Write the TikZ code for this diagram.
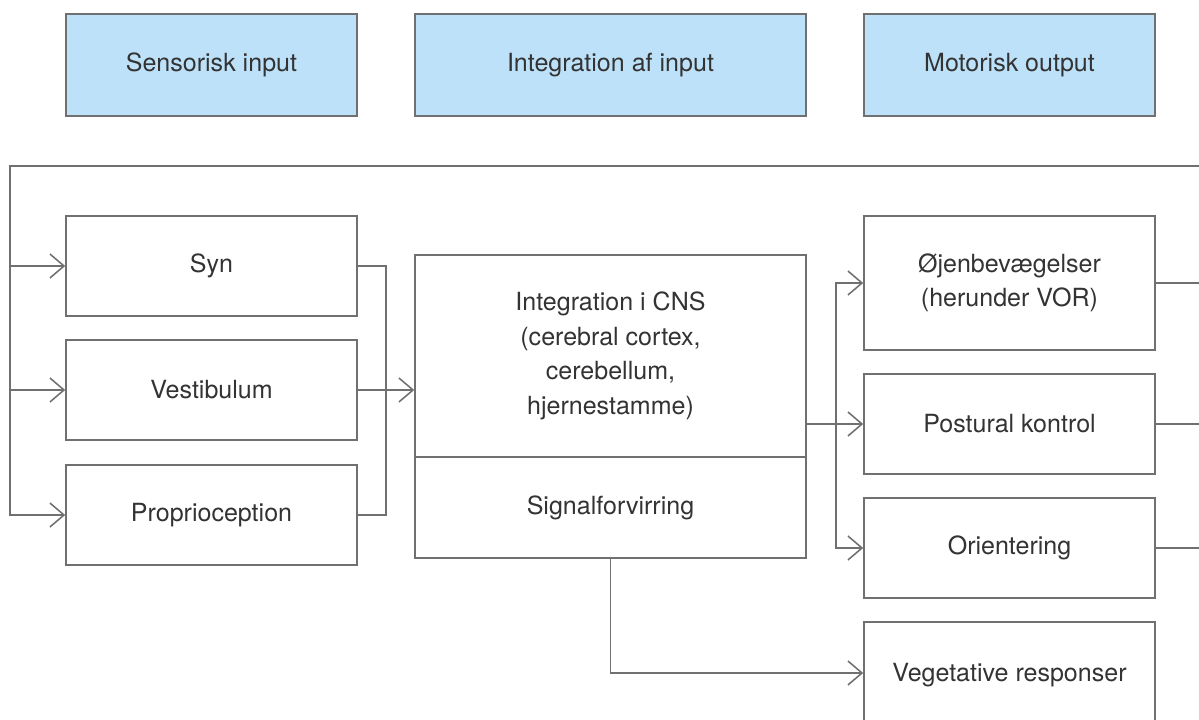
\documentclass[tikz,border=0pt]{standalone}
\usepackage{fontspec}
\setmainfont{TeX Gyre Heros}
\usepackage{xcolor}
\usetikzlibrary{arrows.meta, positioning, calc}
\definecolor{headblue}{HTML}{BDE1F8}
\definecolor{linegray}{HTML}{707070}
\definecolor{textgray}{HTML}{333333}

\tikzset{
  box/.style={draw=linegray, line width=1.1pt, fill=white, text=textgray,
    align=center, inner sep=0pt, minimum width=291*0.025cm,
    minimum height=100*0.025cm, font=\fontsize{17.8}{24.5}\selectfont},
  headbox/.style={box, fill=headblue, minimum height=102*0.025cm},
  link/.style={draw=linegray, line width=1.1pt},
  arr/.style={link, -{Straight Barb[length=10pt, width=17pt, line width=1.1pt]}}
}

\begin{document}
\begin{tikzpicture}[x=0.025cm, y=-0.025cm]
  \useasboundingbox (0,0) rectangle (1199,720);

  % overskrifter
  \node[headbox] (sensHead) at (211.5,65) {Sensorisk input};
  \node[headbox, minimum width=391*0.025cm] (intHead) at (610.5,65) {Integration af input};
  \node[headbox] (motHead) at (1009.5,65) {Motorisk output};

  % sensorisk input
  \node[box] (syn) at (211.5,266) {Syn};
  \node[box] (vest) at (211.5,390) {Vestibulum};
  \node[box] (prop) at (211.5,515) {Proprioception};

  % integration
  \node[box, minimum width=391*0.025cm, minimum height=202*0.025cm] (cns) at (610.5,356)
    {Integration i CNS\\(cerebral cortex,\\cerebellum,\\hjernestamme)};
  \node[box, minimum width=391*0.025cm, minimum height=101*0.025cm] (sig) at (610.5,507.5)
    {Signalforvirring};

  % motorisk output
  \node[box, minimum height=134*0.025cm] (ojen) at (1009.5,283)
    {Øjenbevægelser\\(herunder VOR)};
  \node[box] (post) at (1009.5,424) {Postural kontrol};
  \node[box] (ori) at (1009.5,548) {Orientering};
  \node[box, minimum height=106*0.025cm] (veg) at (1009.5,675) {Vegetative responser};

  \coordinate (edge) at (1199,166);
  \coordinate (rail) at (10,166);
  \coordinate (merge) at (386,390);
  \coordinate (split) at (836,424);

  % tilbagekobling
  \draw[arr] (edge) -- (rail) |- (prop.west);
  \draw[arr] (rail |- syn.west) -- (syn.west);
  \draw[arr] (rail |- vest.west) -- (vest.west);

  \draw[link] (syn.east) -| (merge) |- (prop.east);
  \draw[arr] (vest.east) -- (vest.east -| cns.west);

  \draw[arr] (split -| cns.east) -- (post.west);
  \draw[arr] (split) |- (ojen.west);
  \draw[arr] (split) |- (ori.west);
  \draw[arr] (sig.south) -- (sig.south |- 0,673) -- (veg.west |- 0,673);

  \draw[link] (ojen.east) -- (ojen.east -| edge);
  \draw[link] (post.east) -- (post.east -| edge);
  \draw[link] (ori.east) -- (ori.east -| edge);
\end{tikzpicture}
\end{document}
